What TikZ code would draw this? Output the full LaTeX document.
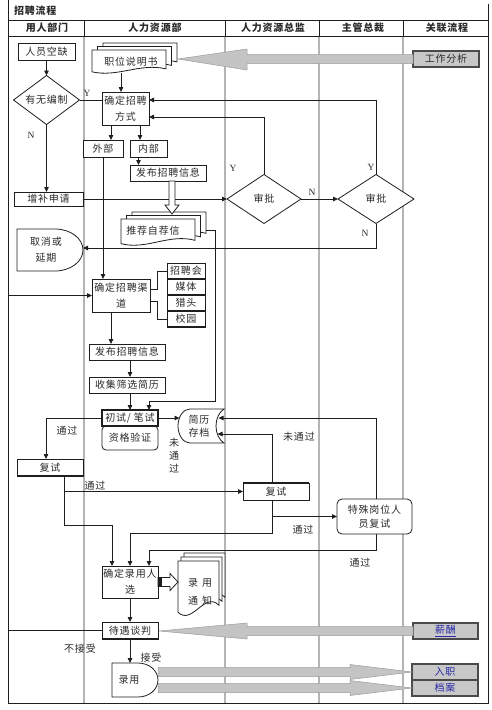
\documentclass[tikz,border=0pt]{standalone}
\usepackage{fontspec}
\setmainfont{Liberation Serif}
\newfontfamily\cjk{Noto Sans CJK SC}[LetterSpace=8]
\usetikzlibrary{shapes.geometric,arrows.meta,calc}
\definecolor{ln}{HTML}{1E1E1E}
\definecolor{txt}{HTML}{2A2A2A}
\definecolor{col}{HTML}{B4B4B4}
\definecolor{garrow}{HTML}{C4C4C4}
\definecolor{garrowln}{HTML}{9C9C9C}
\definecolor{rbox}{HTML}{C8C8C8}
\definecolor{rboxln}{HTML}{4A4A4A}
\definecolor{blu}{HTML}{2828A8}
\newcommand\cjkf{\cjk\fontsize{10}{11}\selectfont}
\tikzset{
  every node/.style={inner sep=0pt, outer sep=0pt, text=txt, font=\cjkf},
  box/.style={draw=ln, line width=0.8pt, fill=white, align=center},
  dia/.style={diamond, aspect=2, draw=ln, line width=0.8pt, fill=white},
  chan/.style={box, minimum width=38, minimum height=16},
  conn/.style={draw=ln, line width=0.8pt},
  arr/.style={conn, -{Triangle[length=5pt,width=4.5pt]}},
  yn/.style={font=\rmfamily\fontsize{9.5}{10}\selectfont},
  l16/.style={font=\cjk\fontsize{10}{16}\selectfont},
  l14/.style={font=\cjk\fontsize{10}{14}\selectfont},
  l13/.style={font=\cjk\fontsize{10}{13}\selectfont},
  hdr/.style={font=\cjk\bfseries\fontsize{10}{11}\selectfont},
  rbox/.style={draw=rboxln, line width=1.2pt, fill=rbox, minimum width=66, minimum height=16},
  bigarrow/.style={fill=garrow, draw=garrowln, line width=0.5pt},
  hollow/.style={fill=white, draw=ln, line width=0.8pt},
  docline/.style={draw=ln, line width=0.8pt, fill=white},
  shapeline/.style={draw=ln, line width=0.8pt, fill=white},
  collin/.style={draw=col, line width=1.5pt},
  frame/.style={draw=ln, line width=0.8pt}
}
\newcommand\docpath[4]{\path[docline] (#1,#2) -- (#1+#3,#2) -- (#1+#3,#2+0.82*#4) .. controls (#1+0.65*#3,#2+0.55*#4) and (#1+0.35*#3,#2+1.2*#4) .. (#1,#2+0.95*#4) -- cycle;}
\newcommand\mdoc[9]{%
  \docpath{#2+2*#6}{#3-2*#7}{#4}{#5}
  \docpath{#2+#6}{#3-#7}{#4}{#5}
  \docpath{#2}{#3}{#4}{#5}
  \node[minimum width=#4, minimum height=#5] (#1) at (#2+#4/2,#3+#5/2) {};
  \node[align=center] (#1-t) at (#8) {#9};}
\begin{document}
\begin{tikzpicture}[x=1pt,y=-1pt]
\useasboundingbox (0,0) rectangle (492,710);
% frame and lanes
\foreach \x in {84,225,319,403} {
  \draw[collin] (\x,36) -- (\x,703);
  \draw[frame] (\x,20) -- (\x,36);
}
\draw[frame] (8,0) -- (8,703) -- (488,703) -- (488,4);
\draw[frame] (8,20) -- (488,20);
\draw[frame] (8,36) -- (488,36);
\node[hdr, anchor=west] (title) at (14,11) {招聘流程};
\node[hdr] (h1) at (47,28) {用人部门};
\node[hdr] (h2) at (155,28) {人力资源部};
\node[hdr] (h3) at (273,28) {人力资源总监};
\node[hdr] (h4) at (363,28) {主管总裁};
\node[hdr] (h5) at (447,28) {关联流程};

% documents
\mdoc{jd}{92}{50}{74}{23}{5.5}{3.5}{131,62}{职位说明书}
\mdoc{tjzj}{121}{219}{74}{26}{5.5}{3.5}{153,231}{推荐自荐信}
\mdoc{lytz}{178}{561}{41}{54}{3}{4}{200,592}{录\hspace{4pt}用\\[7pt]通\hspace{4pt}知}

% delay shapes
\path[shapeline] (17,229) -- (55,229) .. controls (70.5,229) and (83,238.4) .. (83,250) .. controls (83,261.6) and (70.5,271) .. (55,271) -- (17,271) -- cycle;
\node[l16, align=center] (qxyq) at (46,250) {取消或\\延期};
\coordinate (qxyqR) at (83,248);
\path[shapeline] (112,663) -- (138,663) .. controls (149,663) and (158,670.4) .. (158,680) .. controls (158,689.6) and (149,697) .. (138,697) -- (112,697) -- cycle;
\node (ly) at (129,680) {录用};
\coordinate (lyT) at (130,663);
% stored data
\path[shapeline] (190,409) .. controls (183.4,409) and (178,416.6) .. (178,426) .. controls (178,435.4) and (183.4,443) .. (190,443) -- (224,443) .. controls (219,440) and (216,433) .. (216,426) .. controls (216,419) and (219,412) .. (224,409) -- cycle;
\node[l13, align=center] (jlcd) at (199,426) {简历\\存档};
\coordinate (jlcdL) at (179.5,418);
\coordinate (jlcdR1) at (218.5,418);
\coordinate (jlcdR2) at (217.5,434);

% boxes
\node[box, minimum width=57, minimum height=17] (ryqk) at (46.5,51.5) {人员空缺};
\node[dia, minimum width=66, minimum height=49] (ywbz) at (46.5,100) {有无编制};
\node[box, l16, minimum width=47, minimum height=33] (jdzpfs) at (125.5,108.5) {确定招聘\\方式};
\node[box, minimum width=40, minimum height=17] (wb) at (103,148.5) {外部};
\node[box, minimum width=37, minimum height=17] (nb) at (148.5,148.5) {内部};
\node[box, minimum width=76, minimum height=16] (fb1) at (168,173) {发布招聘信息};
\node[box, minimum width=69, minimum height=14] (zbsq) at (48.5,199) {增补申请};
\node[dia, minimum width=74, minimum height=49] (sp1) at (264,199) {审批};
\node[dia, minimum width=76, minimum height=49] (sp2) at (376,199) {审批};
\node[box, l16, minimum width=58, minimum height=33] (jdzpqd) at (121,295.5) {确定招聘渠\\道};
\node[chan] (c1) at (186,271) {招聘会};
\node[chan] (c2) at (186,287) {媒体};
\node[chan] (c3) at (186,303) {猎头};
\node[chan] (c4) at (186,319) {校园};
\foreach \c in {c1,c2,c3,c4} \draw[ln, line width=1.4pt] (\c.south west) -- (\c.south east);
\node[box, minimum width=76, minimum height=16] (fb2) at (127,352) {发布招聘信息};
\node[box, minimum width=76, minimum height=16] (sjsx) at (127,385) {收集筛选简历};
\node[box, rounded corners=4pt, minimum width=56, minimum height=24] (zgyz) at (130,438) {资格验证};
\node[box, line width=1.2pt, minimum width=56, minimum height=16] (cs) at (130,418) {初试/ 笔试};
\node[box, minimum width=66, minimum height=17] (fs1) at (50,467.5) {复试};
\draw[ln, line width=1.4pt] (fs1.south west) -- (fs1.south east);
\node[box, minimum width=66, minimum height=17] (fs2) at (276,491.5) {复试};
\draw[ln, line width=1.4pt] (fs2.north west) -- (fs2.north east);
\node[box, l14, rounded corners=5pt, minimum width=75, minimum height=35] (tsgw) at (374.5,516.5) {特殊岗位人\\员复试};
\node[box, l16, minimum width=56, minimum height=32] (jdlyrx) at (130,582) {确定录用人\\选};
\node[box, minimum width=56, minimum height=17] (dytp) at (130,630.5) {待遇谈判};
\draw[ln, line width=1.4pt] (dytp.south west) -- (dytp.south east);
% related process boxes
\node[rbox] (gzfx) at (446,59) {工作分析};
\node[rbox, minimum width=65, text=blu] (xc) at (445.5,631) {\underline{薪酬}};
\node[rbox, text=blu] (rz) at (445,672) {入职};
\node[rbox, text=blu] (da) at (445,688) {档案};

% connectors
\coordinate (xL) at (8,0);
\coordinate (yA) at (0,525);
\coordinate (yB) at (0,533);
\coordinate (yC) at (0,550);
\coordinate (tjR) at (215,401);
\draw[arr] (ryqk.south) -- (ywbz.north);
\draw[conn] (ywbz.east) -- (ywbz.east -| jdzpfs.west);
\draw[arr] (ywbz.south) -- (ywbz.south |- zbsq.north);
\draw[arr] ([xshift=-4.5pt]jdzpfs.north |- jd.south) -- ([xshift=-4.5pt]jdzpfs.north);
\draw[arr] ([xshift=-14.5pt]jdzpfs.south) -- ([xshift=-14.5pt]jdzpfs.south |- wb.north);
\draw[arr] ([xshift=14.5pt]jdzpfs.south) -- ([xshift=14.5pt]jdzpfs.south |- nb.north);
\draw[arr] ([xshift=-10pt]nb.south) -- ([xshift=-10pt]nb.south |- fb1.north);
\draw[arr] (zbsq.east) -- (sp1.west);
\draw[arr] (sp1.north) |- ([yshift=-8.5pt]jdzpfs.east);
\draw[arr] (sp1.east) -- (sp2.west);
\draw[arr] (sp2.north) |- ([yshift=8.5pt]jdzpfs.east);
\draw[arr] (sp2.south) |- (qxyqR);
\draw[arr] (wb.south) -- (wb.south |- jdzpqd.north);
\draw[conn] ([yshift=6.5pt]jdzpqd.east) -- ++(7,0) |- (c1.west);
\draw[conn] ([yshift=-5.5pt]jdzpqd.east) -- ++(7,0) |- (c4.west);
\draw[arr] ([xshift=-10pt]jdzpqd.south) -- ([xshift=-10pt]jdzpqd.south |- fb2.north);
\draw[arr] ([xshift=3pt]fb2.south) -- ([xshift=3pt]fb2.south |- sjsx.north);
\draw[arr] ([xshift=3pt]sjsx.south) -- ([xshift=3pt]sjsx.south |- cs.north);
\draw[arr] ([xshift=11pt,yshift=2pt]tjzj.east) -| (tjR) -| ([xshift=19pt]cs.north);
\draw[arr] (cs.east) -- (jlcdL);
\draw[arr] (cs.west) -| ([xshift=-4pt]fs1.north);
\draw[arr] ([xshift=14pt]fs1.south) |- (fs2.west);
\draw[arr] ([xshift=14pt]fs1.south) |- ([xshift=-18pt]jdlyrx.north |- yA) -- ([xshift=-18pt]jdlyrx.north);
\draw[arr] ([xshift=-4pt]fs2.north) |- (jlcdR2);
\draw[arr] ([xshift=-4pt]fs2.south) |- (tsgw.west);
\draw[arr] ([xshift=-4pt]fs2.south) |- (jdlyrx.north |- yB) -- (jdlyrx.north);
\draw[arr] ([xshift=1.5pt]tsgw.north) |- (jlcdR1);
\draw[arr] ([xshift=1.5pt]tsgw.south) |- ([xshift=19pt]jdlyrx.north |- yC) -- ([xshift=19pt]jdlyrx.north);
\draw[arr] (jdlyrx.south) -- (dytp.north);
\draw[arr] (dytp.west) -- (dytp.west -| xL) |- (jdzpqd.west);
\draw[arr] (dytp.south) -- (lyT);

% hollow arrows
\path[hollow] ([xshift=1pt]fb1.south) -- ++(0,24) -- ++(-4,0) -- ++(7,9) -- ++(7,-9) -- ++(-4,0) -- ++(0,-24) -- cycle;
\path[hollow] (jdlyrx.east) ++(0,-4.5) -- ++(12,0) -- ++(0,-4) -- ++(8,8.5) -- ++(-8,8.5) -- ++(0,-4) -- ++(-12,0) -- cycle;
\fill[ln] (jdlyrx.east) ++(0,-4.5) rectangle ++(4,9);

% big grey arrows
\path[bigarrow] (gzfx.west) ++(0,-4.5) -- ++(-166,0) -- ++(0,-5.5) -- ++(-69,10) -- ++(69,11) -- ++(0,-6.5) -- ++(166,0) -- cycle;
\path[bigarrow] (xc.west) ++(0,-4.5) -- ++(-166,0) -- ++(0,-3.5) -- ++(-88,8) -- ++(88,8) -- ++(0,-3.5) -- ++(166,0) -- cycle;
\path[bigarrow] (rz.west) -- ++(-62,-7.5) -- ++(0,3) -- ++(-192,0) -- ++(0,9) -- ++(192,0) -- ++(0,3) -- cycle;
\path[bigarrow] (da.west) -- ++(-62,-7.5) -- ++(0,3) -- ++(-192,0) -- ++(0,9) -- ++(192,0) -- ++(0,3) -- cycle;

% labels
\node[yn] (lY1) at (87,93) {Y};
\node[yn] (lN1) at (31,135) {N};
\node[yn] (lY2) at (233,168) {Y};
\node[yn] (lN2) at (312,192) {N};
\node[yn] (lY3) at (371,167) {Y};
\node[yn] (lN3) at (365,233) {N};
\node (l1) at (67,431) {通过};
\node (l2) at (95,486) {通过};
\node (l3) at (299,437) {未通过};
\node (l4) at (303,530) {通过};
\node (l5) at (360,563) {通过};
\node (l6) at (80,649) {不接受};
\node (l7) at (151,658) {接受};
\node[l13, align=center] (l8) at (174,456) {未\\通\\过};
\end{tikzpicture}
\end{document}
